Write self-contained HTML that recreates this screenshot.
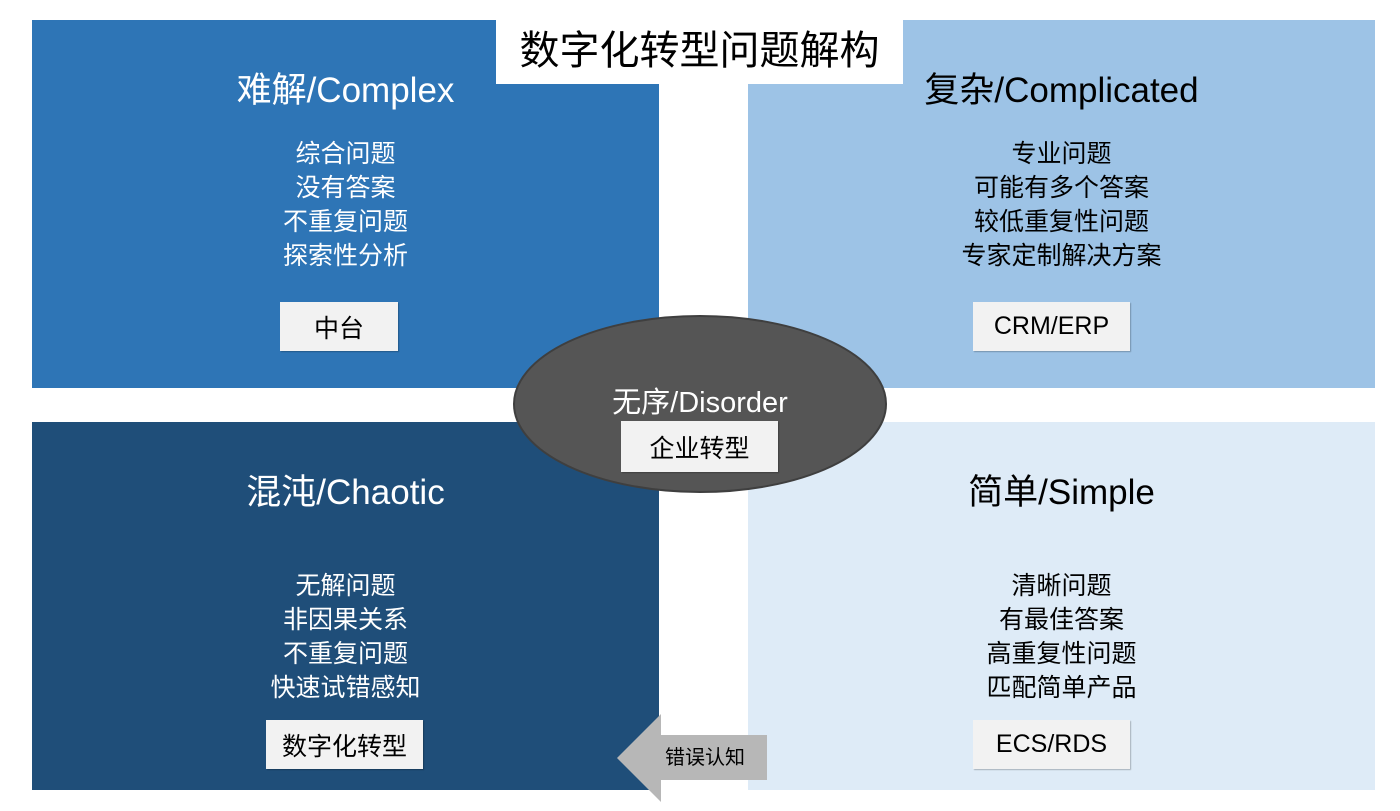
<!DOCTYPE html>
<html><head><meta charset="utf-8"><style>
body{margin:0;width:1400px;height:811px;position:relative;background:#fff;overflow:hidden;font-family:"Liberation Sans","Noto Sans CJK SC",sans-serif}
.a{position:absolute}
.q{position:absolute;width:627px;height:368px}
.t{position:absolute;width:627px;text-align:center;font-size:35px;line-height:40px}
.l{position:absolute;width:627px;text-align:center;font-size:25px;line-height:34px}
.b{position:absolute;background:#f2f2f2;color:#000;font-size:25px;display:flex;align-items:center;justify-content:center;box-shadow:1px 1px 1px rgba(0,0,0,.25)}
</style></head><body>
<div class="q" style="left:32px;top:20px;background:#2e75b6"></div>
<div class="q" style="left:748px;top:20px;background:#9dc3e6"></div>
<div class="q" style="left:32px;top:422px;background:#1f4e79"></div>
<div class="q" style="left:748px;top:422px;background:#deebf7"></div>

<div class="a" style="left:496px;top:20px;width:407px;height:64px;background:#fff;font-size:40px;line-height:62px;text-align:center">数字化转型问题解构</div>

<div class="t" style="left:32px;top:71px;color:#fff">难解/Complex</div>
<div class="l" style="left:32px;top:137px;color:#fff">综合问题<br>没有答案<br>不重复问题<br>探索性分析</div>
<div class="b" style="left:280px;top:302px;width:118px;height:49px">中台</div>

<div class="t" style="left:748px;top:71px;color:#000">复杂/Complicated</div>
<div class="l" style="left:748px;top:137px;color:#000">专业问题<br>可能有多个答案<br>较低重复性问题<br>专家定制解决方案</div>
<div class="b" style="left:973px;top:302px;width:157px;height:49px">CRM/ERP</div>

<div class="t" style="left:32px;top:473px;color:#fff">混沌/Chaotic</div>
<div class="l" style="left:32px;top:569px;color:#fff">无解问题<br>非因果关系<br>不重复问题<br>快速试错感知</div>
<div class="b" style="left:266px;top:720px;width:157px;height:49px">数字化转型</div>

<div class="t" style="left:748px;top:473px;color:#000">简单/Simple</div>
<div class="l" style="left:748px;top:569px;color:#000">清晰问题<br>有最佳答案<br>高重复性问题<br>匹配简单产品</div>
<div class="b" style="left:973px;top:720px;width:157px;height:49px">ECS/RDS</div>

<svg class="a" style="left:0;top:0" width="1400" height="811">
<ellipse cx="700" cy="404" rx="186" ry="88" fill="#555555" stroke="#3f3f3f" stroke-width="2"/>
<polygon points="617,758 661,714 661,735 767,735 767,780 661,780 661,802" fill="#b7b7b7"/>
</svg>
<div class="a" style="left:513px;top:385px;width:374px;text-align:center;color:#fff;font-size:29px;line-height:36px">无序/Disorder</div>
<div class="b" style="left:621px;top:421px;width:157px;height:51px">企业转型</div>
<div class="a" style="left:655px;top:743px;width:100px;text-align:center;font-size:20px;line-height:30px;color:#000">错误认知</div>
</body></html>
